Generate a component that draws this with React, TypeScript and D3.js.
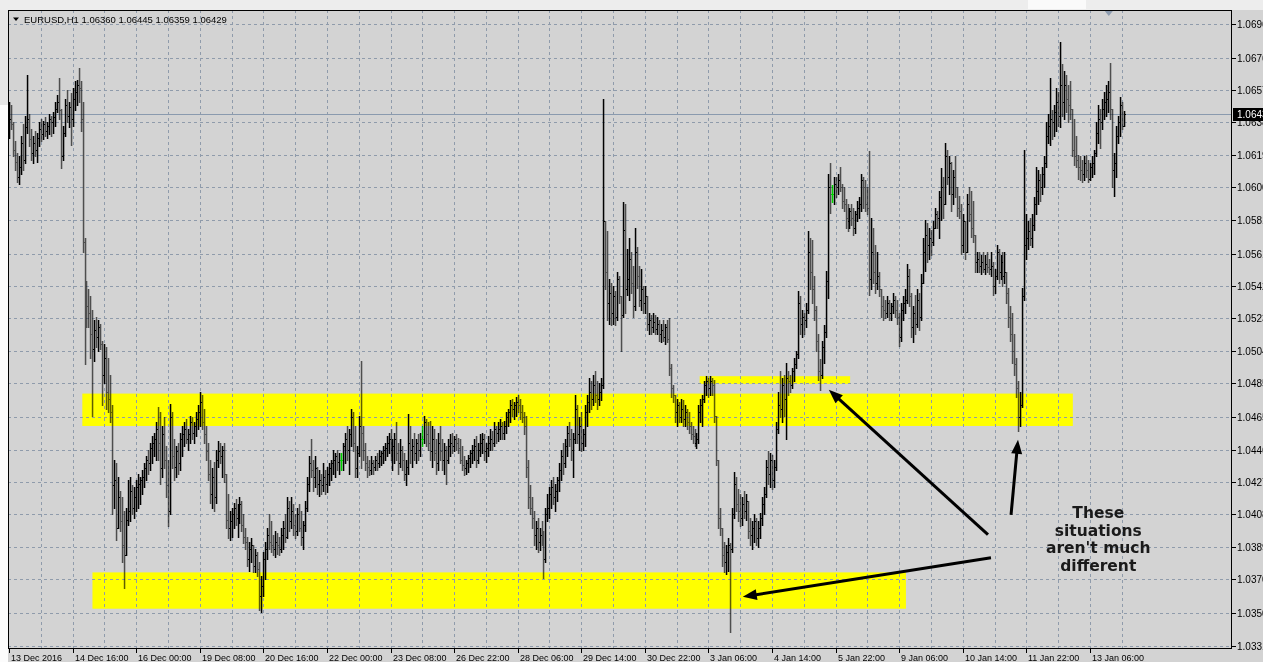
import React from "react";
import * as d3 from "d3";

// prices are kept in pips above BASE
const BASE = 1.03;
const PIP = 0.0001;
const firstOpen = 335;

// H1 bars as [high, low, close]; open = previous close
// 13 Dec 08:00 - 16 Dec 23:00
const week1: number[][] = [
  [350,329,340],[348,334,337],[338,318,322],[327,310,315],[320,303,306],[318,302,312],[330,308,326],[337,310,316],
  [342,314,335],[366,332,340],[343,324,328],[334,316,320],[330,314,326],[333,318,322],[332,315,329],[338,324,334],
  [340,327,331],[339,328,337],[341,330,333],[338,329,336],[343,331,340],[342,330,338],[344,332,341],[350,336,346],
  [354,344,350],[364,340,345],[346,311,318],[336,316,332],[352,330,348],[357,338,342],[350,335,347],[355,325,340],
  [358,336,352],[362,345,356],[363,348,360],[370,350,358],[362,333,340],[350,262,268],[270,196,236],[245,218,230],
  [240,218,226],[236,200,214],[228,166,205],[222,198,216],[224,206,212],[222,204,218],[220,205,208],[210,172,190],
  [208,185,200],[206,170,180],[200,168,176],[190,162,168],[172,108,125],[140,112,128],[138,93,100],[130,100,118],
  [122,98,104],[118,80,90],[110,65,84],[112,84,105],[128,102,110],[130,104,122],[125,108,112],[124,106,118],
  [128,110,124],[132,112,126],[130,114,128],[134,120,130],[138,124,135],[142,128,140],[146,132,138],[150,134,147],
  [154,138,150],[156,142,152],[162,140,158],[171,140,150],[168,126,135],[160,130,155],[165,135,140],[148,118,125],
  [140,101,110],[173,108,165],[168,135,142],[152,128,136],[148,130,145],[150,132,138],[156,134,152],[160,142,155],
];

// 19 Dec - 23 Dec
const week2: number[][] = [
  [162,148,158],[164,150,152],[158,146,155],[166,150,162],[165,152,156],[162,150,160],[168,154,164],[172,158,168],
  [180,160,174],[178,158,162],[170,150,155],[160,140,145],[150,128,132],[140,115,120],[135,112,130],[139,110,118],
  [146,115,140],[151,136,145],[150,138,142],[148,130,146],[150,127,132],[132,100,105],[120,94,100],[110,93,104],
  [112,95,108],[115,100,112],[117,102,106],[114,95,112],[118,103,114],[116,98,102],[108,91,95],[100,88,92],
  [95,78,82],[92,75,88],[94,80,90],[90,74,78],[88,74,84],[86,72,76],[80,52,60],[72,51,66],
  [86,60,82],[92,70,88],[100,82,96],[108,88,92],[104,86,90],[96,84,88],[98,83,92],[97,85,90],
  [95,84,88],[100,86,96],[104,88,100],[108,92,95],[118,94,112],[116,98,104],[118,100,110],[114,96,102],
  [108,94,98],[112,96,108],[114,98,100],[110,90,95],[104,88,102],[116,98,112],[130,110,126],[142,122,138],
  [152,130,134],[140,122,130],[142,124,135],[136,120,126],[134,119,128],[132,120,125],[138,122,130],[134,120,126],
  [136,121,132],[138,125,135],[140,128,138],[146,132,140],[144,130,142],[146,134,139],[144,132,140],[144,134,140],
  [150,134,148],[156,138,152],[160,140,146],[158,132,155],[170,148,165],[168,145,150],[160,130,135],[148,130,144],
  [166,142,160],[198,135,156],[160,140,146],[150,134,138],[142,130,136],[140,131,134],[142,132,138],[140,132,136],
  [142,134,140],[144,134,138],[146,136,142],[145,137,144],[148,138,146],[150,140,147],[154,142,150],[156,144,152],
  [158,140,146],[152,134,148],[156,138,152],[162,140,144],[150,132,138],[152,136,146],[148,134,140],[144,128,132],
  [140,125,136],[167,132,150],[160,138,146],[152,136,148],[156,140,144],[152,138,150],[155,140,146],[156,142,152],
];

// 26 Dec 06:00 - 30 Dec
const week3: number[][] = [
  [160,148,152],[166,150,162],[164,148,155],[162,146,150],[163,140,145],[160,136,152],[158,140,144],[152,132,138],
  [156,134,150],[160,140,145],[152,134,140],[150,132,146],[148,126,140],[152,138,148],[155,142,150],[156,144,148],
  [154,145,152],[155,146,150],[153,144,147],[152,138,140],[148,134,137],[142,131,135],[140,132,138],[143,133,141],
  [146,136,144],[149,138,146],[152,140,148],[154,136,140],[150,138,146],[155,142,150],[156,144,152],[155,140,145],
  [150,139,147],[154,142,150],[158,146,152],[157,146,150],[162,148,158],[160,150,156],[162,151,158],[164,152,160],
  [162,152,156],[163,152,160],[168,156,165],[170,160,168],[175,162,172],[176,166,170],[174,164,172],[177,166,174],
  [178,168,172],[176,164,168],[172,162,165],[168,155,160],[166,130,136],[140,112,118],[125,108,112],[118,100,106],
  [110,90,96],[104,88,100],[106,86,92],[100,87,96],[104,90,94],[98,71,82],[112,80,108],[120,104,112],
  [124,106,120],[128,112,124],[130,114,118],[126,110,122],[130,116,128],[138,122,134],[146,128,142],[150,132,138],
  [152,136,148],[160,142,156],[162,148,152],[158,140,146],[156,130,152],[178,150,170],[172,150,155],[165,146,160],
  [168,145,150],[158,146,155],[172,148,168],[178,160,174],[188,168,180],[186,170,176],[190,172,184],[192,174,178],
  [186,170,176],[185,172,180],[188,175,184],[352,182,280],[280,240,250],[274,222,232],[246,220,238],[244,219,226],
  [242,220,236],[239,219,224],[250,222,246],[248,232,236],[236,204,225],[291,224,275],[290,226,240],[264,237,246],
  [270,234,258],[262,238,244],[254,224,230],[276,228,262],[265,241,248],[254,230,234],[252,228,240],[242,226,232],
  [242,226,236],[236,216,220],
];

// 2 Jan - 6 Jan
const week4: number[][] = [
  [226,214,222],[225,214,218],[226,215,221],[225,214,217],[224,214,220],[222,210,214],[220,209,216],[222,210,212],
  [220,208,218],[222,209,211],[223,190,194],[196,177,182],[184,174,178],[178,162,168],[176,160,172],[174,162,165],
  [176,162,170],[175,160,164],[172,160,168],[170,158,162],[168,156,160],[162,152,155],[160,150,154],[158,148,150],
  [156,147,152],[172,150,168],[176,162,172],[178,160,176],[186,174,184],[189,178,186],[188,177,182],[189,178,186],
  [188,178,184],[187,162,166],[166,137,140],[140,100,106],[112,96,100],[100,78,84],[92,74,80],[90,73,86],
  [94,75,90],[91,39,88],[112,86,108],[133,106,126],[130,110,114],[123,104,110],[120,101,106],[118,102,114],
  [122,106,110],[120,105,116],[116,94,98],[106,90,96],[104,88,100],[108,92,104],[106,90,94],[104,89,100],
  [109,94,106],[118,102,114],[124,108,120],[140,118,136],[145,126,132],[144,124,140],[143,123,128],[140,124,136],
  [162,134,158],[180,156,172],[192,165,170],[188,162,184],[190,166,176],[197,152,188],[192,178,186],[190,180,184],
  [194,182,192],[200,186,196],[204,194,202],[239,200,232],[236,214,220],[228,212,224],[226,214,222],[232,218,228],
  [274,226,262],[270,240,250],[269,232,240],[248,222,228],[230,204,210],[214,187,192],[199,181,190],[210,188,206],
  [219,197,215],[251,212,245],[308,235,300],[314,285,296],[301,291,296],[306,290,302],[306,294,300],[308,296,304],
  [312,298,300],[302,288,292],[300,286,290],[293,276,282],[290,274,280],[288,276,286],[290,278,282],[288,272,276],
  [286,273,284],[292,280,288],[294,282,290],[308,286,304],[306,288,300],[304,286,290],[300,284,288],[321,237,246],
  [282,240,262],[276,244,250],[266,238,244],[262,240,248],[250,236,240],[240,224,230],[236,222,228],[234,223,226],
];

// 9 Jan - 13 Jan
const week5: number[][] = [
  [236,224,232],[234,222,226],[232,222,230],[238,226,234],[236,224,228],[234,220,224],[226,207,212],[232,210,228],
  [236,222,232],[240,226,234],[255,232,248],[252,230,236],[238,212,218],[230,209,226],[237,214,220],[240,218,234],
  [238,216,224],[249,222,244],[270,244,262],[281,251,272],[279,256,266],[276,258,270],[275,260,268],[280,266,276],
  [288,276,284],[286,276,282],[298,270,294],[311,281,300],[306,282,290],[326,290,318],[322,302,306],[318,296,314],
  [315,286,296],[310,290,306],[318,294,300],[300,283,288],[295,282,286],[290,261,266],[284,262,280],[280,258,262],
  [296,262,290],[300,280,284],[298,271,276],[292,268,272],[272,250,256],[262,250,258],[262,250,254],[260,249,256],
  [262,250,252],[260,249,255],[262,250,253],[258,249,252],[262,248,254],[256,237,242],[252,238,248],[266,246,262],
  [264,244,250],[260,246,256],[262,242,248],[262,244,250],[250,232,238],[241,218,224],[230,210,214],[226,197,204],
  [214,190,196],[200,177,182],[186,157,165],[180,160,172],[241,171,236],[322,234,266],[284,258,270],[280,264,274],
  [282,266,270],[284,265,278],[294,275,290],[312,284,298],[310,290,304],[308,292,300],[312,296,308],[318,300,314],
  [338,312,330],[343,326,336],[364,325,340],[345,328,338],[348,330,344],[358,333,350],[356,336,342],[385,335,360],
  [372,342,350],[368,340,360],[366,344,352],[360,338,348],[362,340,346],[346,318,322],[340,313,318],[330,312,316],
  [319,305,312],[318,304,310],[316,303,308],[318,304,314],[319,306,310],[316,303,305],[314,304,312],[318,306,314],
  [322,308,320],[338,318,332],[348,326,340],[346,323,338],[352,334,346],[356,340,350],[360,342,352],[362,344,356],
  [373,340,346],[346,300,310],[320,295,314],[336,306,330],[342,326,338],[353,330,348],[350,334,336],[344.5,335.9,342.9],
];

const priceTicks = [
  "1.0696","1.0676","1.0657","1.0638","1.0619","1.0600","1.0581","1.0561","1.0542","1.0523",
  "1.0504","1.0485","1.0465","1.0446","1.0427","1.0408","1.0389","1.0370","1.0350","1.0331",
];

// one label every 32 bars
const timeLabels = [
  "13 Dec 2016","14 Dec 16:00","16 Dec 00:00","19 Dec 08:00","20 Dec 16:00","22 Dec 00:00",
  "23 Dec 08:00","26 Dec 22:00","28 Dec 06:00","29 Dec 14:00","30 Dec 22:00","3 Jan 06:00",
  "4 Jan 14:00","5 Jan 22:00","9 Jan 06:00","10 Jan 14:00","11 Jan 22:00","13 Jan 06:00",
];

// yellow zones: bar index span and price span
const zones = [
  { from: 36.9, to: 535.4, top: 1.04789, bottom: 1.04599 },
  { from: 42, to: 451.4, top: 1.0374, bottom: 1.03527 },
  { from: 347.6, to: 423.3, top: 1.04891, bottom: 1.04846 },
];

// arrows: [bar, price] tail -> head
const arrows = [
  { from: [492.7, 1.03961], to: [412.6, 1.04811] },
  { from: [494.2, 1.03826], to: [369.3, 1.03597] },
  { from: [504.3, 1.04078], to: [507.8, 1.04518] },
];

const noteLines = ["These", "situations", "aren't much", "different"];
const noteAt = { bar: 548.2, price: 1.0406 };

const symbol = "EURUSD,H1";
const headerOhlc = ["1.06360", "1.06445", "1.06359", "1.06429"];
const bid = 1.06429;

const W = 1263;
const H = 662;
const left = 8, top = 10, right = 1232, bottom = 649;
const font = "'Liberation Sans', Arial, sans-serif";

function Arrow({ x1, y1, x2, y2 }: { x1: number; y1: number; x2: number; y2: number }) {
  const len = Math.hypot(x2 - x1, y2 - y1);
  const ux = (x2 - x1) / len, uy = (y2 - y1) / len;
  const hl = 14, hw = 5.5;
  const bx = x2 - ux * hl, by = y2 - uy * hl;
  return (
    <g>
      <line x1={x1} y1={y1} x2={bx + ux * 2} y2={by + uy * 2} stroke="#000" strokeWidth={3} />
      <polygon
        points={`${x2},${y2} ${bx - uy * hw},${by + ux * hw} ${bx + uy * hw},${by - ux * hw}`}
        fill="#000"
      />
    </g>
  );
}

export default function App() {
  const bars = [...week1, ...week2, ...week3, ...week4, ...week5];
  const n = bars.length;
  const price = (v: number) => BASE + v * PIP;

  const x = d3.scaleLinear().domain([0, n - 1]).range([9, 1123.7]);
  const y = d3.scaleLinear().domain([1.0331, 1.0696]).range([645.7, 23.5]);

  let up = "", down = "", doji = "";
  bars.forEach((b, i) => {
    const o = i === 0 ? firstOpen : bars[i - 1][2];
    const [h, l, c] = b;
    const px = Math.round(x(i));
    const yh = Math.round(y(price(h)));
    const yl = Math.round(y(price(l)));
    const yo = Math.round(y(price(Math.max(l, Math.min(h, o)))));
    const yc = Math.round(y(price(c)));
    const seg =
      `M${px - 0.2},${yh}h1.5V${yl + 1}h-1.5Z ` +
      `M${px - 1},${yo}h1v1h-1Z M${px + 1},${yc}h1v1h-1Z `;
    if (c > o) up += seg;
    else if (c < o) down += seg;
    else doji += seg;
  });

  const vGrid = d3.range(16, n, 16);
  const yBid = Math.round(y(bid)) + 0.5;

  return (
    <svg
      width={W}
      height={H}
      style={{ position: "absolute", left: 0, top: 0, display: "block" }}
      fontFamily={font}
    >
      <rect width={W} height={H} fill="#d3d3d3" />
      <rect width={W} height={top} fill="#ededed" />
      <rect x={1028} y={0} width={58} height={top - 1} fill="#fafafa" />
      <rect x={0} y={top} width={left} height={95} fill="#e6e6e6" />
      <rect x={0} y={top + 95} width={left} height={H - top - 95} fill="#fcfcfc" />

      {/* zones */}
      {zones.map((z, k) => (
        <rect
          key={k}
          x={x(z.from)}
          y={y(z.top)}
          width={x(z.to) - x(z.from)}
          height={y(z.bottom) - y(z.top)}
          fill="#ffff00"
        />
      ))}

      {/* grid */}
      <g stroke="#8f9bab" strokeWidth={1} strokeDasharray="3,3" shapeRendering="crispEdges">
        {priceTicks.map((t) => {
          const yy = Math.round(y(+t)) + 0.5;
          return <line key={t} x1={left} x2={right} y1={yy} y2={yy} />;
        })}
        {vGrid.map((b) => {
          const xx = Math.round(x(b)) + 0.5;
          return <line key={b} x1={xx} x2={xx} y1={top} y2={bottom} />;
        })}
      </g>

      {/* bid line */}
      <line x1={left} x2={right} y1={yBid} y2={yBid} stroke="#8a9aae" strokeWidth={1} />

      {/* bars */}
      <g style={{ mixBlendMode: "multiply" }}>
        <path d={down} fill="#5e5e5e" />
        <path d={up} fill="#000" />
        <path d={doji} fill="#00ff00" />
      </g>

      {/* frame */}
      <rect
        x={left + 0.5}
        y={top + 0.5}
        width={right - left - 1}
        height={bottom - top - 1}
        fill="none"
        stroke="#000"
        shapeRendering="crispEdges"
      />
      <path d={`M${x(553.5) - 4},${top + 1}h8l-4,5Z`} fill="#8d9cb0" />

      {/* header */}
      <path d="M13,17.5h6l-3,3.5Z" fill="#000" />
      <text x={24} y={22.5} fontSize={9.5} fill="#000">
        {`${symbol}  ${headerOhlc.join(" ")}`}
      </text>

      {/* price axis */}
      <g fontSize={10} fill="#000">
        {priceTicks.map((t) => {
          const yy = Math.round(y(+t)) + 0.5;
          return (
            <g key={t}>
              <line x1={right} x2={right + 4} y1={yy} y2={yy} stroke="#000" />
              <text x={right + 5} y={yy + 3.5}>{t}</text>
            </g>
          );
        })}
      </g>
      <rect x={right + 1} y={yBid - 6.5} width={W - right} height={13} fill="#000" />
      <text x={right + 5} y={yBid + 3.5} fontSize={10} fill="#fff">
        {bid.toFixed(4)}
      </text>

      {/* time axis */}
      <g fontSize={9} fill="#000">
        {timeLabels.map((t, k) => {
          const xx = Math.round(x(k * 32)) + 0.5;
          return (
            <g key={t}>
              <line x1={xx} x2={xx} y1={bottom} y2={bottom + 4} stroke="#000" />
              <text x={xx + 1.5} y={660.5}>{t}</text>
            </g>
          );
        })}
      </g>

      {/* annotations */}
      {arrows.map((a, k) => (
        <Arrow
          key={k}
          x1={x(a.from[0])}
          y1={y(a.from[1])}
          x2={x(a.to[0])}
          y2={y(a.to[1])}
        />
      ))}
      <text
        x={x(noteAt.bar)}
        y={y(noteAt.price)}
        textAnchor="middle"
        fontFamily="'DejaVu Sans', Verdana, sans-serif"
        fontWeight="bold"
        fontSize={15.5}
        fill="#1a1a1a"
      >
        {noteLines.map((l, k) => (
          <tspan key={k} x={x(noteAt.bar)} dy={k === 0 ? 0 : 17.7}>
            {l}
          </tspan>
        ))}
      </text>
    </svg>
  );
}
